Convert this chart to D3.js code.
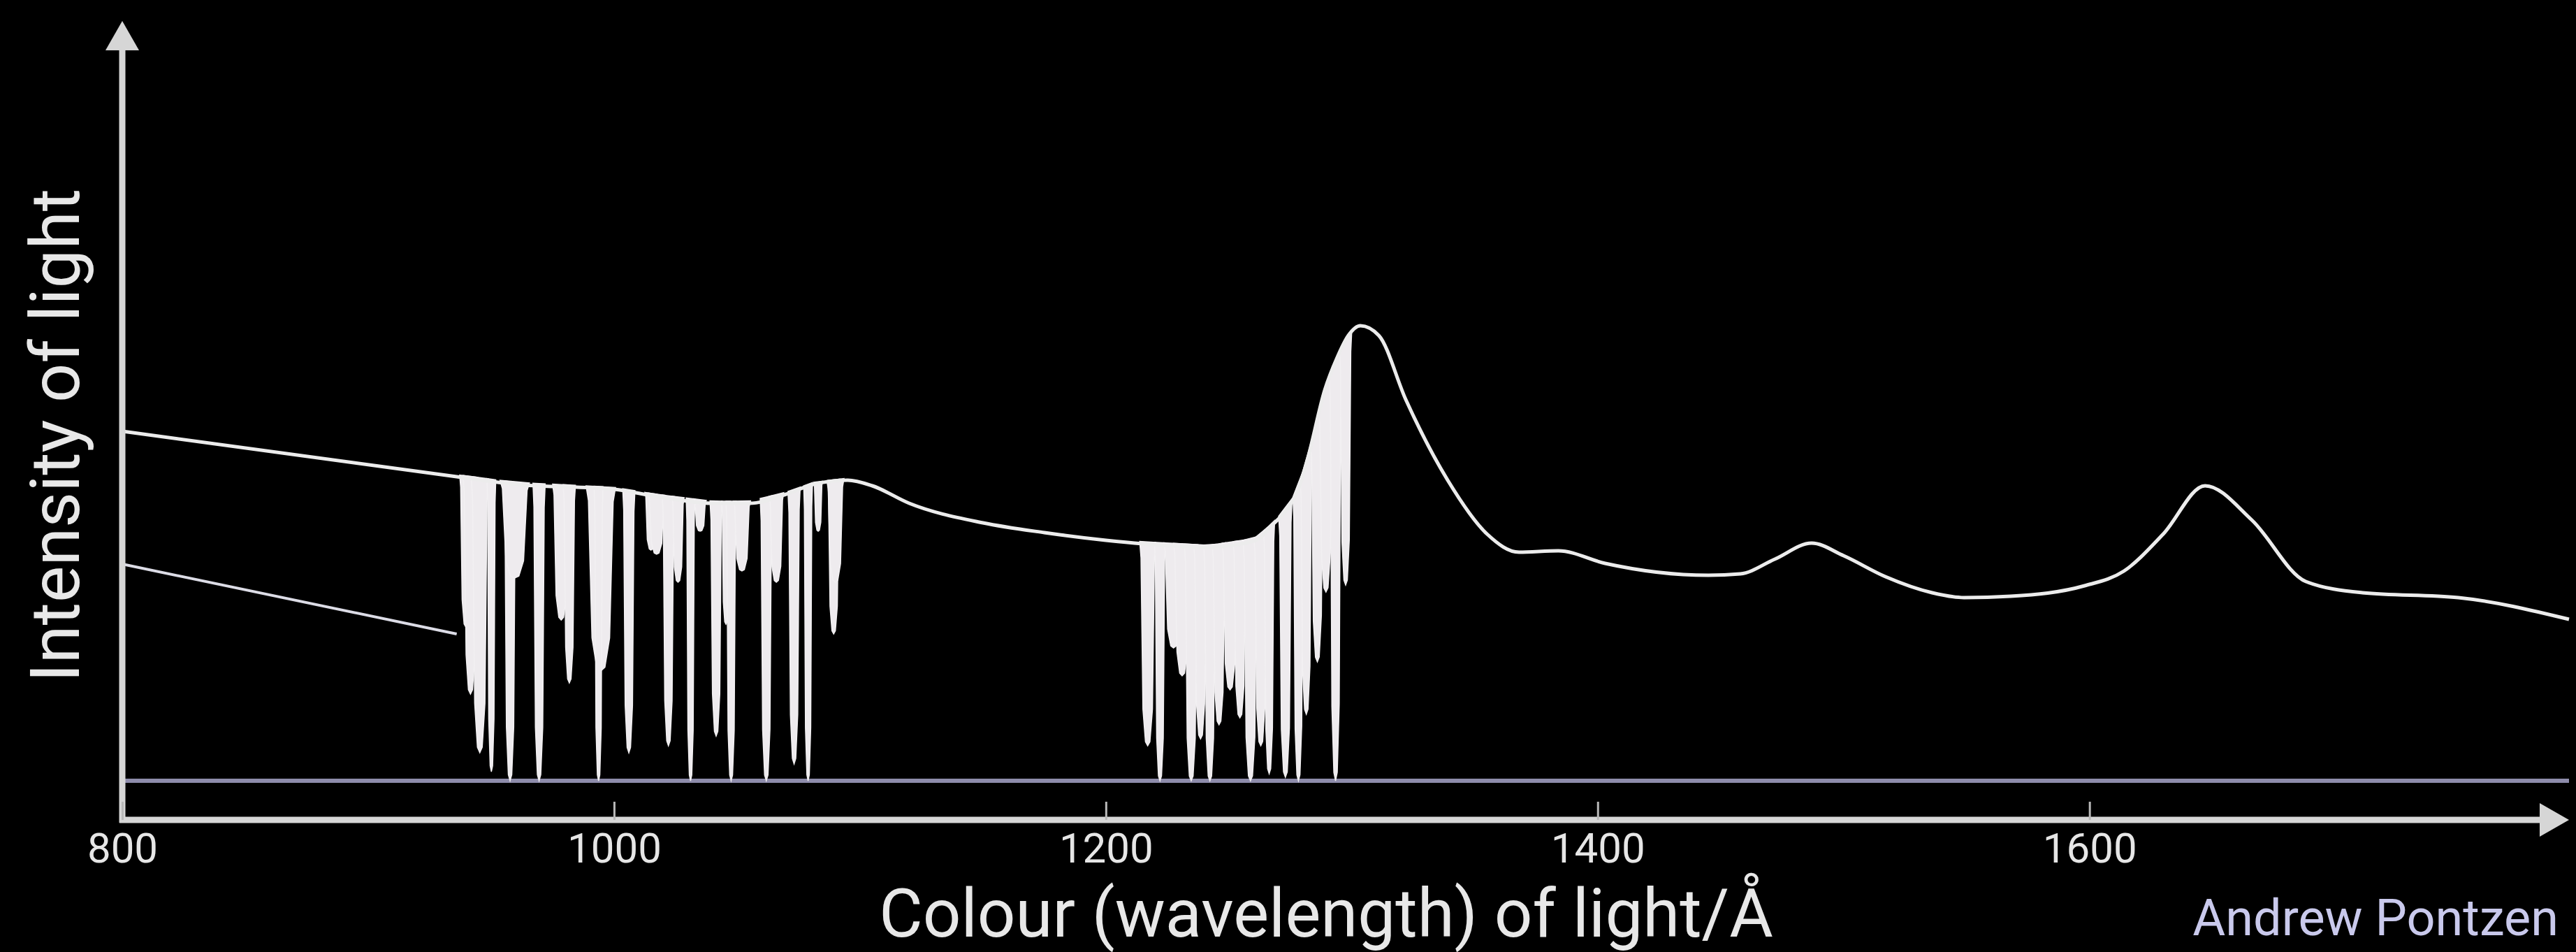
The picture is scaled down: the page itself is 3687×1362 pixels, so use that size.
<!DOCTYPE html>
<html>
<head>
<meta charset="utf-8">
<script src="https://cdn.jsdelivr.net/npm/d3@7"></script>
<style>
  body { margin: 0; background: #000; }
  svg { display: block; }
</style>
</head>
<body>
<div id="chart"></div>
<script>
// Axis ticks and labels
const xTicks = [800, 1000, 1200, 1400, 1600];
const xTitle = 'Colour (wavelength) of light/Å';
const yTitle = 'Intensity of light';
const credit = 'Andrew Pontzen';

// Emitted spectrum: wavelength (Å) and intensity (arbitrary units, 0 = baseline)
const spectrumWave = [800, 936, 960, 1000, 1017, 1040, 1055, 1070, 1081, 1095, 1105, 1120,
  1150, 1175, 1200, 1215, 1242, 1261, 1268, 1274, 1278, 1282, 1289, 1294, 1298.6, 1303.5,
  1311, 1322, 1339, 1355, 1368, 1384, 1403, 1445, 1458, 1472, 1487, 1500, 1517, 1536, 1549,
  1568, 1598, 1614, 1630, 1647, 1666, 1688, 1711, 1750, 1795];
const spectrumFlux = [5.00, 4.35, 4.24, 4.17, 4.07, 3.97, 3.97, 4.10, 4.24, 4.30, 4.22, 3.97,
  3.69, 3.55, 3.44, 3.39, 3.34, 3.44, 3.67, 3.90, 4.15, 4.60, 5.59, 6.05, 6.37, 6.51,
  6.37, 5.45, 4.30, 3.53, 3.27, 3.29, 3.11, 2.94, 2.96, 3.17, 3.40, 3.22, 2.92, 2.69, 2.62,
  2.64, 2.79, 3.00, 3.53, 4.22, 3.73, 2.85, 2.69, 2.62, 2.31];

// Flux below the Lyman limit
const lowerWave = [800, 936];
const lowerFlux = [3.10, 2.10];

// Absorption lines, first forest: centre (Å), lowest intensity, width (Å)
const forestAWave  = [939.7, 941.6, 945.4, 950.1, 957.7, 959.6, 969.5, 978.5, 981.8, 994.6, 993.7, 1006,
  1015, 1017.3, 1022.1, 1026, 1031.1, 1035, 1041.5, 1045.5, 1047.6, 1052, 1061.9, 1066, 1073.2,
  1078.9, 1083, 1089.3, 1090];
const forestALow   = [2.2, 1.24, 0.40, 0.13, 0.0, 2.9, 0.0, 2.3, 1.4, 1.57, 0.0, 0.4,
  3.3, 3.24, 0.5, 2.84, 0.0, 3.57, 0.64, 2.24, 0.0, 3.0, 0.0, 2.84, 0.24,
  0.0, 3.57, 2.1, 2.84];
const forestAWidth = [5, 6, 7, 3.6, 5, 12, 5, 7, 5, 12, 3.6, 5,
  5, 7, 5, 5, 3.6, 5, 5, 3.6, 4.2, 7, 5, 6, 5,
  3.6, 3.6, 5, 7];

// Absorption lines, second forest
const forestBWave  = [1217, 1222, 1227.5, 1231, 1234.7, 1238.5, 1242.3, 1246, 1250.5, 1254.5, 1258.8,
  1263, 1266.4, 1273, 1278.3, 1281.5, 1286, 1289.5, 1293.4, 1297.5];
const forestBLow   = [0.5, 0.0, 1.9, 1.5, 0.0, 0.6, 0.0, 0.8, 1.3, 0.9, 0.0,
  0.5, 0.1, 0.05, 0.0, 0.95, 1.7, 2.7, 0.0, 2.8];
const forestBWidth = [6.5, 4.5, 8, 7, 5.5, 5.5, 5, 5.5, 6.5, 5.5, 6,
  5.5, 4.5, 5.5, 4.5, 5, 5.5, 6, 5, 5];

const W = 3687, H = 1362;
const fontFamily = 'Roboto, "Open Sans", sans-serif';

const svg = d3.select('#chart').append('svg')
  .attr('width', W)
  .attr('height', H)
  .style('background', '#000');

const x = d3.scaleLinear().domain([800, 1795]).range([175, 3677]);
const y = d3.scaleLinear().domain([-0.56, 10.87]).range([1173, 30]);

// continuum level under each absorption line
const continuumAt = d3.scaleLinear().domain(spectrumWave).range(spectrumFlux);

// baseline (zero intensity)
svg.append('line')
  .attr('x1', x(800)).attr('x2', x(1795))
  .attr('y1', y(0)).attr('y2', y(0))
  .attr('stroke', '#8e8cab')
  .attr('stroke-width', 6);

// icicle outline: [offset as fraction of width, depth fraction]
const shape = [[-0.5, 0], [-0.42, 0.08], [-0.36, 0.45], [-0.3, 0.82], [-0.14, 0.98], [0, 1],
  [0.14, 0.98], [0.3, 0.82], [0.36, 0.45], [0.42, 0.08], [0.5, 0]];

function icicle(wave, low, width) {
  return d3.line()
    .x(p => x(wave + p[0] * width))
    .y(p => {
      const top = continuumAt(wave + p[0] * width) + 0.03;
      return y(top - (top - low) * p[1]);
    })(shape) + 'Z';
}

function drawForest(waves, lows, widths) {
  svg.append('g')
    .selectAll('path')
    .data(waves.map((w, i) => ({ w, low: lows[i], width: widths[i] })))
    .join('path')
    .attr('d', d => icicle(d.w, d.low, d.width))
    .attr('fill', '#eeebee')
    .attr('stroke', '#f2f0f2')
    .attr('stroke-width', 1.5);
}

drawForest(forestAWave, forestALow, forestAWidth);
drawForest(forestBWave, forestBLow, forestBWidth);

// lower line (below the Lyman limit)
svg.append('path')
  .datum(lowerWave.map((w, i) => [w, lowerFlux[i]]))
  .attr('fill', 'none')
  .attr('stroke', '#dcdce6')
  .attr('stroke-width', 4)
  .attr('d', d3.line().x(d => x(d[0])).y(d => y(d[1])));

// emitted spectrum
svg.append('path')
  .datum(spectrumWave.map((w, i) => [w, spectrumFlux[i]]))
  .attr('fill', 'none')
  .attr('stroke', '#ececec')
  .attr('stroke-width', 5)
  .attr('stroke-linejoin', 'round')
  .attr('d', d3.line().x(d => x(d[0])).y(d => y(d[1])).curve(d3.curveMonotoneX));

// axes with arrowheads
const axisColor = '#d6d6d6';
const x0 = x(800), yAxisY = y.range()[0];
const xTip = x.range()[1], yTip = y.range()[1];
const arrowLen = 42, arrowHalf = 24;

svg.append('line')
  .attr('x1', x0).attr('x2', x0)
  .attr('y1', yAxisY + 4).attr('y2', yTip + arrowLen - 2)
  .attr('stroke', axisColor).attr('stroke-width', 9);
svg.append('line')
  .attr('x1', x0 - 4).attr('x2', xTip - arrowLen + 2)
  .attr('y1', yAxisY).attr('y2', yAxisY)
  .attr('stroke', axisColor).attr('stroke-width', 9);

svg.append('path')
  .attr('d', `M${x0},${yTip} L${x0 - arrowHalf},${yTip + arrowLen} L${x0 + arrowHalf},${yTip + arrowLen}Z`)
  .attr('fill', axisColor);
svg.append('path')
  .attr('d', `M${xTip},${yAxisY} L${xTip - arrowLen},${yAxisY - arrowHalf} L${xTip - arrowLen},${yAxisY + arrowHalf}Z`)
  .attr('fill', axisColor);

// ticks and tick labels
const xAxis = d3.axisBottom(x)
  .tickValues(xTicks)
  .tickSize(-26)
  .tickPadding(18)
  .tickFormat(d3.format('d'));

const gx = svg.append('g')
  .attr('transform', `translate(0,${yAxisY})`)
  .call(xAxis);
gx.select('.domain').remove();
gx.selectAll('.tick line').attr('stroke', '#b8b8b8').attr('stroke-width', 3);
gx.selectAll('.tick text')
  .attr('fill', '#e6e6e6')
  .style('font-family', fontFamily)
  .style('font-size', '60px');

// titles
svg.append('text')
  .attr('transform', 'translate(113,623) rotate(-90)')
  .attr('text-anchor', 'middle')
  .attr('fill', '#e8e8e8')
  .style('font-family', fontFamily)
  .style('font-size', '99px')
  .text(yTitle);

svg.append('text')
  .attr('x', 1898)
  .attr('y', 1340)
  .attr('text-anchor', 'middle')
  .attr('fill', '#e8e8e8')
  .style('font-family', fontFamily)
  .style('font-size', '96px')
  .text(xTitle);

svg.append('text')
  .attr('x', 3662)
  .attr('y', 1338)
  .attr('text-anchor', 'end')
  .attr('fill', '#c9c9ec')
  .style('font-family', fontFamily)
  .style('font-size', '72px')
  .text(credit);
</script>
</body>
</html>
